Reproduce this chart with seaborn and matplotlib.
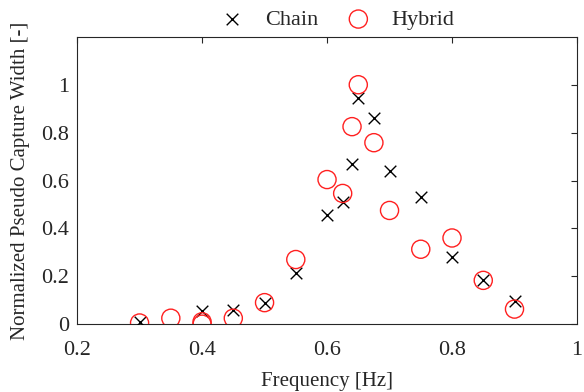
import numpy as np
import pandas as pd
import matplotlib
matplotlib.use('Agg')
import matplotlib.pyplot as plt
import seaborn as sns

# data
chain_freq = [0.30, 0.40, 0.45, 0.50, 0.55, 0.60, 0.625, 0.64, 0.65, 0.675, 0.70, 0.75, 0.80, 0.85, 0.90]
chain_width = [0.01, 0.055, 0.06, 0.09, 0.215, 0.455, 0.51, 0.67, 0.945, 0.86, 0.64, 0.53, 0.28, 0.183, 0.096]

hybrid_freq = [0.30, 0.35, 0.40, 0.40, 0.45, 0.50, 0.55, 0.60, 0.625, 0.64, 0.65, 0.675, 0.70, 0.75, 0.80, 0.85, 0.90]
hybrid_width = [0.005, 0.025, 0.01, 0.0, 0.025, 0.09, 0.27, 0.604, 0.546, 0.825, 1.0, 0.758, 0.475, 0.313, 0.36, 0.183, 0.063]

df_chain = pd.DataFrame({'f': chain_freq, 'w': chain_width})
df_hybrid = pd.DataFrame({'f': hybrid_freq, 'w': hybrid_width})

sns.set_style('white')
plt.rcParams['font.family'] = ['Liberation Serif', 'DejaVu Serif']

fig = plt.figure(figsize=(5.84, 3.92), dpi=100)
ax = fig.add_axes([0.132, 0.173, 0.856, 0.733])

sns.scatterplot(data=df_chain, x='f', y='w', marker='x', color='black', s=70,
                linewidth=1.0, ax=ax, label='Chain', zorder=3)
sns.scatterplot(data=df_hybrid, x='f', y='w', marker='o', fc='none', ec='#ff2020', s=170,
                linewidth=1.0, ax=ax, label='Hybrid', zorder=3)

ax.set_xlim(0.2, 1.0)
ax.set_ylim(0, 1.2)
ax.set_xticks([0.2, 0.4, 0.6, 0.8, 1.0])
ax.set_xticklabels(['0.2', '0.4', '0.6', '0.8', '1'])
ax.set_yticks([0, 0.2, 0.4, 0.6, 0.8, 1.0])
ax.set_yticklabels(['0', '0.2', '0.4', '0.6', '0.8', '1'])
ax.tick_params(direction='in', top=True, right=True, length=4, width=0.8,
               labelsize=16, colors='#262626', pad=6)
ax.tick_params(axis='x', pad=12)
for sp in ax.spines.values():
    sp.set_color('#262626')
    sp.set_linewidth(0.8)

ax.set_xlabel('Frequency [Hz]', fontsize=15, color='#262626', labelpad=9)
ax.set_ylabel('Normalized Pseudo Capture Width [-]', fontsize=15, color='#262626', labelpad=8)

ax.legend(loc='center', bbox_to_anchor=(0.51, 1.06), ncol=2, frameon=False,
          fontsize=16, handletextpad=0.5, columnspacing=0.8, borderaxespad=0)

fig.savefig('out.png', dpi=100)
